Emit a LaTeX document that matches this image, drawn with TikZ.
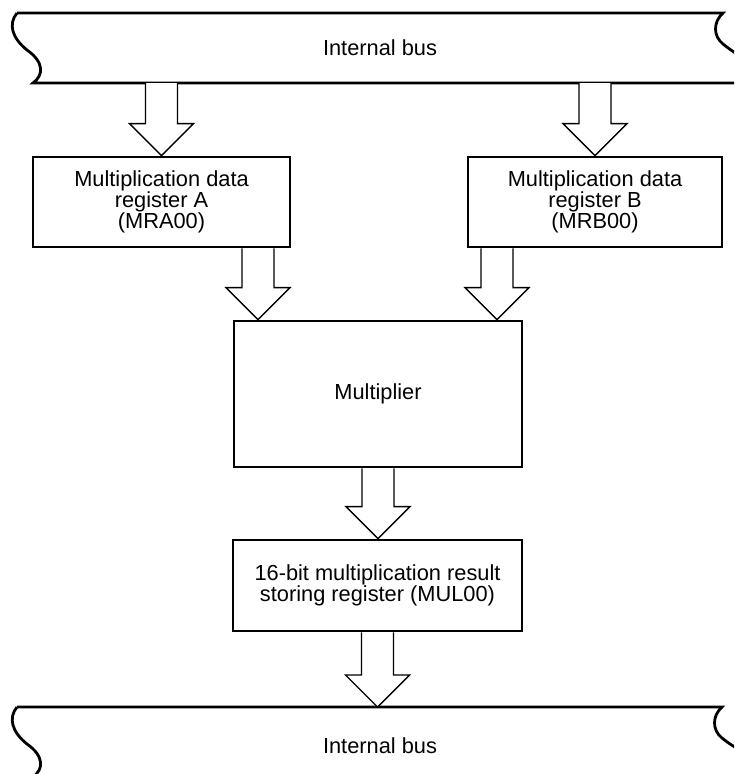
\documentclass[tikz,border=0pt]{standalone}
\usepackage{fontspec}
\setmainfont{Liberation Sans}
\usetikzlibrary{calc}
\tikzset{
  regbox/.style={draw, line width=2.9pt, align=center, inner sep=0pt,
    font=\fontsize{21.8}{19.8}\selectfont},
  buslabel/.style={font=\fontsize{21.8}{19.8}\selectfont},
  busline/.style={line width=2.8pt},
  arrowline/.style={line width=1.4pt, fill=white, line join=miter},
}
% hollow bus arrow from #1 down to #2 (shaft half-width 16, head half-width 32, head length 32)
\newcommand\busarrow[2]{%
  \draw[arrowline] let \p1=(#1), \p2=(#2) in
    (\x1-16pt,\y1) -- (\x1-16pt,\y2+32pt) -- (\x1-32pt,\y2+32pt) -- (\x1,\y2)
    -- (\x1+32pt,\y2+32pt) -- (\x1+16pt,\y2+32pt) -- (\x1+16pt,\y1);}
\begin{document}
\begin{tikzpicture}[x=1pt,y=-1pt]
  \useasboundingbox (0,0) rectangle (734,774);
  \clip (0,0) rectangle (734,774);

  % upper internal bus
  \draw[busline] (17,13) -- (723,13)
    .. controls (713,22) and (713,36) .. (723,44) .. controls (728,48) and (732,51) .. (740,56);
  \draw[busline] (17,13) .. controls (8,24) and (12,38) .. (27,50)
    .. controls (44,62) and (44,75) .. (33,83) -- (740,83);
  \node[buslabel] (busT) at (380,48) {Internal bus};

  % lower internal bus
  \draw[busline] (17,707) -- (722,707)
    .. controls (712,716) and (712,730) .. (722,738) .. controls (727,742) and (731,745) .. (740,750);
  \draw[busline] (17,707) .. controls (8,718) and (12,732) .. (27,744)
    .. controls (44,756) and (44,769) .. (33,777) -- (740,777);
  \node[buslabel] (busB) at (380,746) {Internal bus};

  \coordinate (busTb) at (0,83);
  \coordinate (busBt) at (0,707);

  % registers
  \node[regbox, minimum width=257, minimum height=90] (mra) at (161.5,202)
    {Multiplication data\\register A\\(MRA00)};
  \node[regbox, minimum width=254, minimum height=90] (mrb) at (595,202)
    {Multiplication data\\register B\\(MRB00)};
  \node[regbox, minimum width=288, minimum height=146] (mul) at (378,394) {Multiplier};
  \node[regbox, minimum width=289, minimum height=91] (res) at (377.5,585.5)
    {16-bit multiplication result\\storing register (MUL00)};

  \coordinate (aout) at (258,0);
  \coordinate (bout) at (497,0);

  % data paths
  \busarrow{mra.north |- busTb}{mra.north}
  \busarrow{mrb.north |- busTb}{mrb.north}
  \busarrow{aout |- mra.south}{aout |- mul.north}
  \busarrow{bout |- mrb.south}{bout |- mul.north}
  \busarrow{mul.south}{res.north}
  \busarrow{res.south}{res.south |- busBt}
\end{tikzpicture}
\end{document}
